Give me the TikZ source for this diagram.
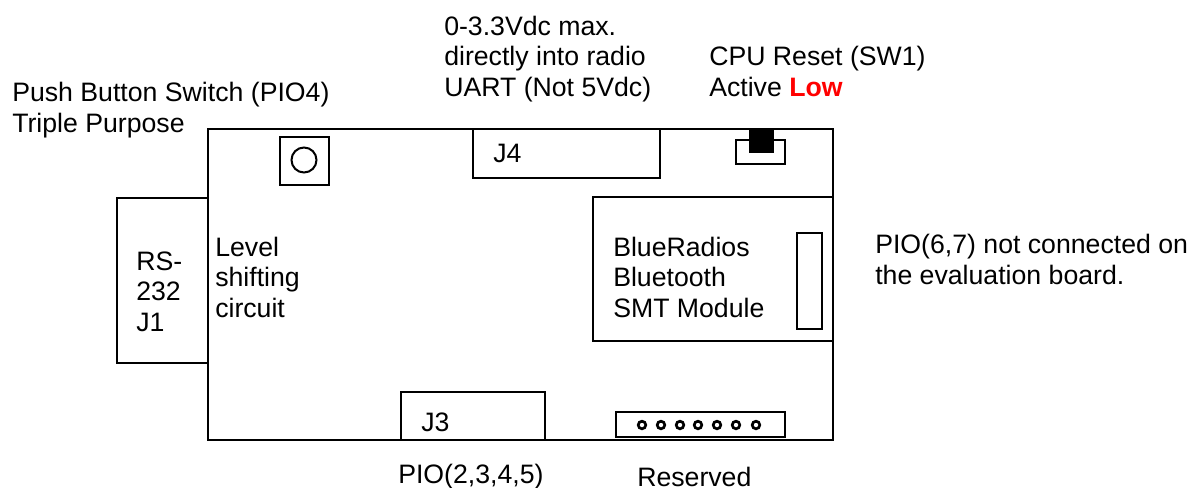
\documentclass[tikz,border=0pt]{standalone}
\usepackage{fontspec}
\setmainfont{Liberation Sans}
\usetikzlibrary{positioning}
\tikzset{lbl/.style={anchor=base west,align=left,inner sep=0pt,font=\fontsize{20}{23}\selectfont}}
\tikzset{part/.style={draw=black,line width=1.5pt}}
\tikzset{partthin/.style={draw=black,line width=1.1pt}}
\definecolor{lowred}{RGB}{255,0,0}

\begin{document}
\begin{tikzpicture}[x=0.75pt,y=-0.75pt]
\useasboundingbox (0,0) rectangle (1190,487);

\draw[part] (208,129) rectangle (833,440);
\draw[partthin] (117,198) rectangle (208,363);
\draw[part] (280,137) rectangle (329,185);
\draw[part] (304,160) circle (12.5);
\draw[partthin] (473,129) rectangle (660,178);
\draw[partthin] (593,197) rectangle (833,341);
\draw[part] (797,233) rectangle (822,329);
\draw[partthin] (401,392) rectangle (545,440);

\draw[part] (736,140) rectangle (785,164);
\fill[black] (749,129) rectangle (774,153);

\draw[part] (616,412) rectangle (785,437);
\foreach \i in {642,661,680,698,717,736,756}
         {
           \draw[line width=2pt] (\i,425) circle (3.8);
         }

\node[lbl] (push) at (12,132) {Push Button Switch (PIO4)\\Triple Purpose};
\node[lbl] (uart) at (444,96.5) {0-3.3Vdc max.\\directly into radio\\UART (Not 5Vdc)};
\node[lbl] (reset) at (709,96.5) {CPU Reset (SW1)\\Active \textcolor{lowred}{\textbf{Low}}};
\node[lbl] (jfour) at (493,162) {J4};
\node[lbl] (rs) at (136,331.5) {RS-\\232\\J1};
\node[lbl] (level) at (215,317.5) {Level\\shifting\\circuit};
\node[lbl] (blue) at (613,317.5) {BlueRadios\\Bluetooth\\SMT Module};
\node[lbl] (notcon) at (875,284.5) {PIO(6,7) not connected on\\the evaluation board.};
\node[lbl] (jthree) at (421,431) {J3};
\node[lbl] (pio) at (398,483) {PIO(2,3,4,5)};
\node[lbl] (res) at (637,486) {Reserved};

\end{tikzpicture}
\end{document}
